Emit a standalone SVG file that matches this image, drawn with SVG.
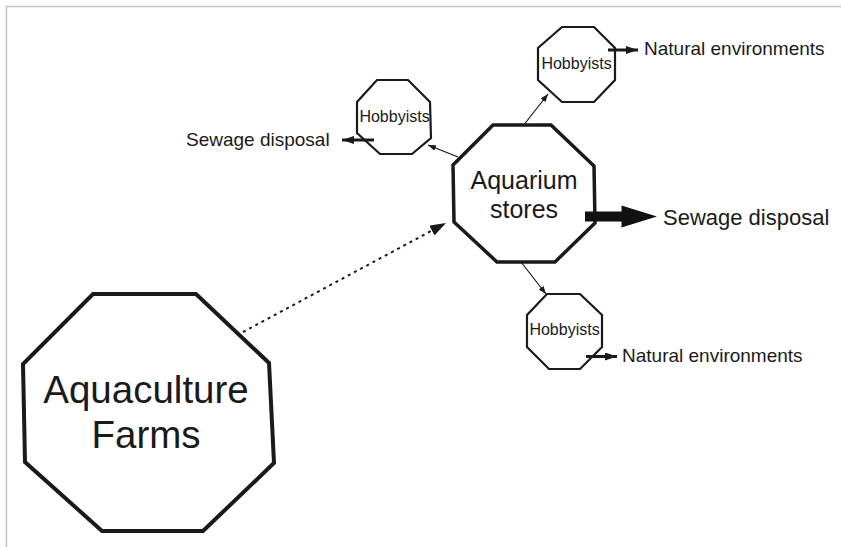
<svg xmlns="http://www.w3.org/2000/svg" width="841" height="547" viewBox="0 0 841 547">
<style>
  .oct{fill:#fff;stroke:#1a1a1a;stroke-linejoin:miter}
  .t{font-family:"Liberation Sans",Arial,sans-serif;fill:#1a1a1a}
  .thin{stroke:#1a1a1a;stroke-width:1.2;fill:none}
</style>
<defs>
  <marker id="ah" markerWidth="8" markerHeight="6" refX="8" refY="3" orient="auto" markerUnits="userSpaceOnUse">
    <path d="M0,0 L8,3 L0,6 Z" fill="#1a1a1a"/>
  </marker>
  <marker id="ahm" markerWidth="12" markerHeight="8" refX="12" refY="4" orient="auto" markerUnits="userSpaceOnUse">
    <path d="M0,0 L12,4 L0,8 Z" fill="#1a1a1a"/>
  </marker>
  <marker id="ahd" markerWidth="16" markerHeight="11" refX="16" refY="5.5" orient="auto" markerUnits="userSpaceOnUse">
    <path d="M0,0 L16,5.5 L0,11 Z" fill="#1a1a1a"/>
  </marker>
</defs>
<rect width="841" height="547" fill="#fff"/>
<path d="M6.5,547 V6.5 H841" fill="none" stroke="#c4c4c4" stroke-width="1.5"/>

<g id="aquaculture">
  <polygon class="oct" stroke-width="4" points="93,294 196,294 269,363 274,463 203,531 102,531 25,462 23,364"/>
  <text class="t" x="146" y="403" font-size="38.5" text-anchor="middle">Aquaculture</text>
  <text class="t" x="146" y="448" font-size="38.5" text-anchor="middle">Farms</text>
</g>

<g id="aquarium">
  <polygon class="oct" stroke-width="3.5" points="493,125 551,125 594,166 595,223 555,262 497,262 454,222 453,165"/>
  <text class="t" x="524" y="189" font-size="25" text-anchor="middle">Aquarium</text>
  <text class="t" x="524" y="218" font-size="25" text-anchor="middle">stores</text>
</g>

<g id="hobby-top">
  <polygon class="oct" stroke-width="2.2" points="562,27 594,27 615,48 615,80 594,102 562,102 538,80 538,48"/>
  <text class="t" x="576.5" y="69" font-size="16" text-anchor="middle">Hobbyists</text>
</g>

<g id="hobby-left">
  <polygon class="oct" stroke-width="2.2" points="377,80 408,80 430,102 431,138 412,154 380,154 357,133 357,102"/>
  <text class="t" x="394.5" y="121.5" font-size="16" text-anchor="middle">Hobbyists</text>
</g>

<g id="hobby-bottom">
  <polygon class="oct" stroke-width="2.2" points="547,294 580,294 602,315 602,347 580,369 549,369 527,347 527,315"/>
  <text class="t" x="564.5" y="335" font-size="16" text-anchor="middle">Hobbyists</text>
</g>

<g id="connectors">
  <line x1="243" y1="332" x2="446" y2="223" stroke="#1a1a1a" stroke-width="2" stroke-dasharray="3,4" marker-end="url(#ahd)"/>
  <line class="thin" x1="523" y1="126" x2="548" y2="94" marker-end="url(#ah)"/>
  <line class="thin" x1="458" y1="157" x2="428" y2="145" marker-end="url(#ah)"/>
  <line class="thin" x1="521" y1="262" x2="546" y2="294" marker-end="url(#ah)"/>
  <path d="M585,211.5 H621.5 V205.5 L657,216.5 L621.5,227.5 V221.5 H585 Z" fill="#111"/>
  <line x1="608" y1="50" x2="638" y2="50" stroke="#1a1a1a" stroke-width="3" marker-end="url(#ahm)"/>
  <line x1="374" y1="140" x2="342" y2="140" stroke="#1a1a1a" stroke-width="3" marker-end="url(#ahm)"/>
  <line x1="586" y1="356.5" x2="617" y2="356.5" stroke="#1a1a1a" stroke-width="3" marker-end="url(#ahm)"/>
</g>

<g id="labels">
  <text class="t" x="663" y="225" font-size="22">Sewage disposal</text>
  <text class="t" x="644" y="55" font-size="19">Natural environments</text>
  <text class="t" x="186" y="146" font-size="19">Sewage disposal</text>
  <text class="t" x="622" y="362" font-size="19">Natural environments</text>
</g>
</svg>
